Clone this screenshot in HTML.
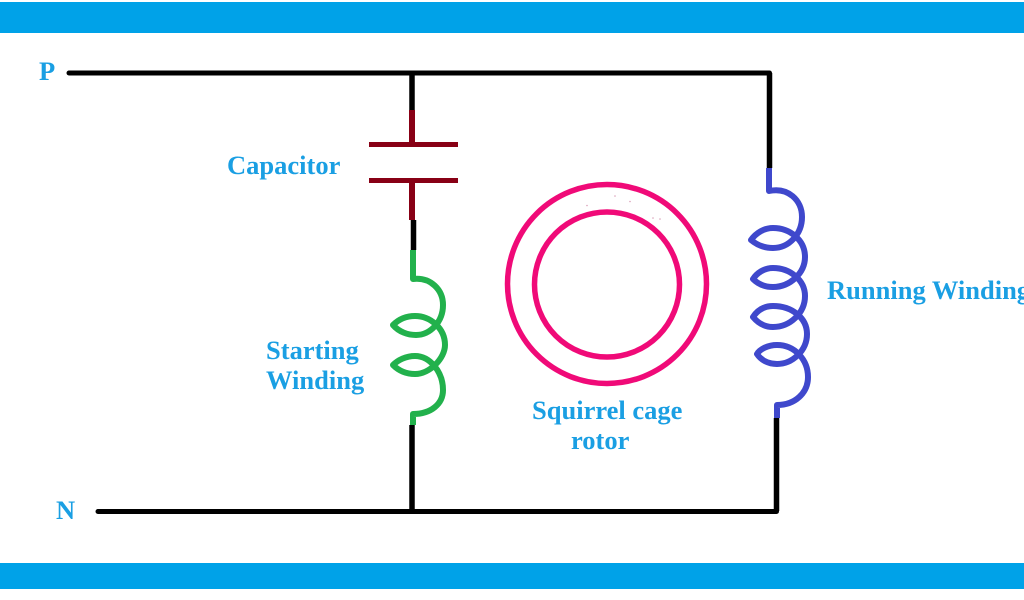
<!DOCTYPE html>
<html><head><meta charset="utf-8"><style>
html,body{margin:0;padding:0;background:#fff;overflow:hidden}
svg{display:block}
text{font-family:"Liberation Serif",serif;font-weight:bold;fill:#1a9fe3;font-size:26.500px}
</style></head><body>
<svg width="1024" height="600" viewBox="0 0 1024 600" xmlns="http://www.w3.org/2000/svg">
<rect width="1024" height="600" fill="#fff"/>
<rect x="0" y="2" width="1024" height="31" fill="#00a2e8"/>
<rect x="0" y="563" width="1024" height="26" fill="#00a2e8"/>
<g fill="none" stroke="#000" stroke-width="5">
<path d="M69 73H769.500" stroke-linecap="round"/>
<path d="M98 511.500H776.500" stroke-linecap="round"/>
<path d="M769.500 73V168M776.500 511V418M412 73V110M413.500 220V250M412 425V511" stroke-width="5.500"/>
</g>
<g fill="none" stroke="#880015">
<path d="M412 110V144M412 180V220" stroke-width="6"/>
<path d="M369 144.500H458M369 180.500H458" stroke-width="5"/>
</g>
<g fill="none" stroke="#22b14c" stroke-width="6" stroke-linejoin="round">
<path d="M413 250V279C431 277 443 290 443 305C443 322 430 335 416 335C408 335 399 332 393 325C398 320 405 316 415 316C430 316 445 328 445 345C445 358 430 374 415 374C407 374 399 371 393 365C398 360 406 356 415 356C430 356 443 372 443 390C443 404 431 414 413 414V425"/>
</g>
<g fill="none" stroke="#3f48cc" stroke-width="6" stroke-linejoin="round">
<path d="M769 168V191C788 187 802 200 802 217C802 234 789 248 773 248C765 248 757 245 751 240C756 233 764 228 773 228C790 228 805 240 805 257C805 273 790 287 773 287C765 287 758 284 753 279C757 273 764 268 773 268C790 268 805 280 805 296C805 313 790 327 773 327C765 327 758 323 753 317C757 311 763 306 773 306C792 306 807 318 807 334C807 351 792 364 777 364C768 364 761 360 757 354C760 349 768 345 777 345C795 345 808 360 808 377C808 393 795 405 777 405V418"/>
</g>
<g fill="none" stroke="#f00a78" stroke-width="5.500">
<circle cx="607" cy="284" r="99.500"/>
<circle cx="607" cy="284.500" r="72.500"/>
</g>
<g fill="#d9a0b8">
<circle cx="587" cy="205.500" r="0.800"/><circle cx="615" cy="196" r="0.800"/><circle cx="630" cy="201.500" r="0.800"/><circle cx="653" cy="218" r="0.800"/><circle cx="660" cy="219" r="0.800"/>
</g>
<text x="39" y="80">P</text>
<text x="56" y="519">N</text>
<text x="227" y="174">Capacitor</text>
<text x="266" y="359">Starting</text>
<text x="266" y="389">Winding</text>
<text x="532" y="419">Squirrel cage</text>
<text x="571" y="449">rotor</text>
<text x="827" y="299">Running Winding</text>
</svg>
</body></html>
